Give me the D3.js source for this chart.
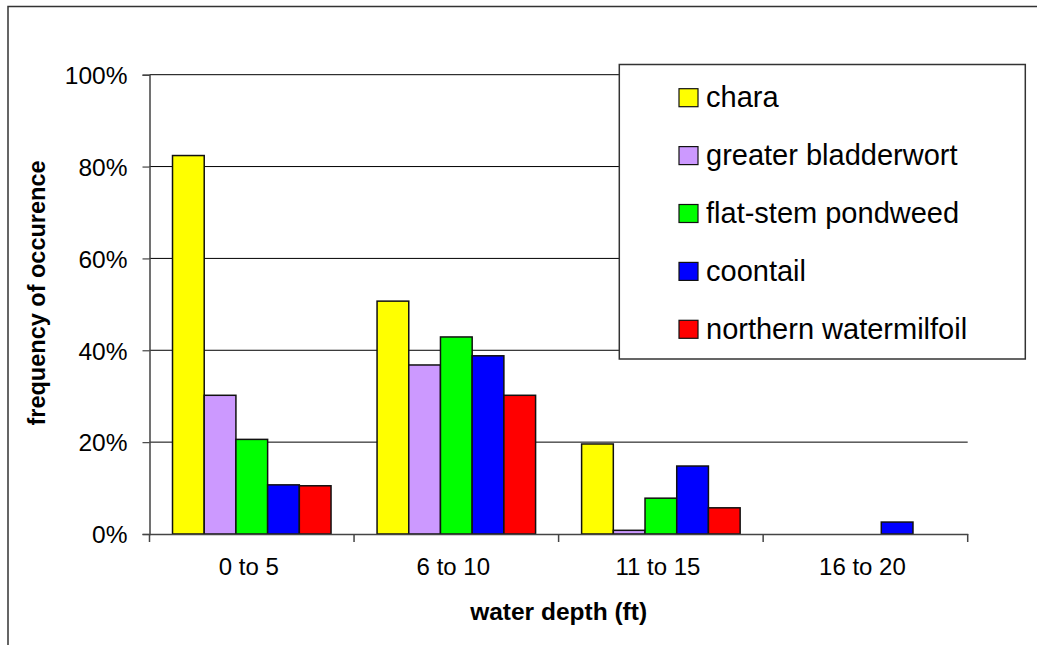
<!DOCTYPE html>
<html>
<head>
<meta charset="utf-8">
<script src="https://cdn.jsdelivr.net/npm/d3@7"></script>
<style>
  body { margin: 0; background: #fff; }
  svg { display: block; font-family: "Liberation Sans", Arial, sans-serif; }
</style>
</head>
<body>
<div id="chart"></div>
<script>
// values
const categories = ["0 to 5", "6 to 10", "11 to 15", "16 to 20"];
const seriesNames = ["chara", "greater bladderwort", "flat-stem pondweed", "coontail", "northern watermilfoil"];
const seriesColors = ["#ffff00", "#cc99ff", "#00ff00", "#0000ff", "#ff0000"];
const chara = [0.824, 0.507, 0.196, 0];
const greaterBladderwort = [0.302, 0.368, 0.008, 0];
const flatStemPondweed = [0.206, 0.429, 0.078, 0];
const coontail = [0.107, 0.388, 0.148, 0.026];
const northernWatermilfoil = [0.105, 0.302, 0.057, 0];
const yTicks = [0, 0.2, 0.4, 0.6, 0.8, 1.0];

const seriesValues = [chara, greaterBladderwort, flatStemPondweed, coontail, northernWatermilfoil];

const width = 1037, height = 645;
const plot = { left: 149.5, right: 967.7, top: 74.7, bottom: 534 };

const svg = d3.select("#chart").append("svg")
  .attr("width", width)
  .attr("height", height);

// outer chart frame (only top and left edges visible)
svg.append("path")
  .attr("d", `M8,${height} L8,6.5 L${width},6.5`)
  .attr("fill", "none")
  .attr("stroke", "#333")
  .attr("stroke-width", 1.5);

const x0 = d3.scaleBand().domain(categories).range([plot.left, plot.right]);
const gap = x0.bandwidth() * 0.1125;
const x1 = d3.scaleBand().domain(seriesNames).range([gap, x0.bandwidth() - gap]);
const y = d3.scaleLinear().domain([0, 1]).range([plot.bottom, plot.top]);

// gridlines
svg.append("g")
  .selectAll("line")
  .data(yTicks.slice(1))
  .join("line")
  .attr("x1", plot.left)
  .attr("x2", plot.right)
  .attr("y1", d => y(d))
  .attr("y2", d => y(d))
  .attr("stroke", "#000")
  .attr("stroke-width", 1);

// bars
const rows = [];
seriesNames.forEach((s, i) => {
  categories.forEach((c, j) => {
    rows.push({ series: s, cat: c, value: seriesValues[i][j], color: seriesColors[i] });
  });
});

svg.append("g")
  .selectAll("rect")
  .data(rows.filter(d => d.value > 0))
  .join("rect")
  .attr("x", d => x0(d.cat) + x1(d.series))
  .attr("y", d => y(d.value))
  .attr("width", x1.bandwidth())
  .attr("height", d => y(0) - y(d.value))
  .attr("fill", d => d.color)
  .attr("stroke", "#111")
  .attr("stroke-width", 1.5);

// y axis
const yAxis = svg.append("g")
  .attr("transform", `translate(${plot.left},0)`)
  .call(d3.axisLeft(y).tickValues(yTicks).tickFormat(d3.format(".0%")).tickSize(7).tickPadding(15));
yAxis.select(".domain").attr("stroke", "#444").attr("stroke-width", 1.5);
yAxis.selectAll(".tick line").attr("stroke", "#444").attr("stroke-width", 1.2);
yAxis.selectAll("text")
  .attr("font-size", 24.5)
  .attr("font-family", "Liberation Sans, Arial, sans-serif")
  .attr("fill", "#000")
  .attr("dy", "0.36em");

// x axis
const xAxis = svg.append("g")
  .attr("transform", `translate(0,${plot.bottom})`)
  .call(d3.axisBottom(x0).tickSize(0).tickPadding(24));
xAxis.select(".domain").attr("stroke", "#444").attr("stroke-width", 1.5);
xAxis.selectAll("text")
  .attr("font-size", 24)
  .attr("font-family", "Liberation Sans, Arial, sans-serif")
  .attr("fill", "#000")
  .attr("dx", -3);
// category boundary ticks
xAxis.append("g")
  .selectAll("line")
  .data(categories.concat(["end"]))
  .join("line")
  .attr("x1", (d, i) => i < categories.length ? x0(d) : plot.right)
  .attr("x2", (d, i) => i < categories.length ? x0(d) : plot.right)
  .attr("y1", 0)
  .attr("y2", 8)
  .attr("stroke", "#444")
  .attr("stroke-width", 1.5);

// axis titles
svg.append("text")
  .attr("transform", `translate(45,293) rotate(-90)`)
  .attr("text-anchor", "middle")
  .attr("font-size", 23.5)
  .attr("font-weight", "bold")
  .text("frequency of occurence");

svg.append("text")
  .attr("x", (plot.left + plot.right) / 2)
  .attr("y", 620)
  .attr("text-anchor", "middle")
  .attr("font-size", 24.5)
  .attr("font-weight", "bold")
  .text("water depth (ft)");

// legend
const legend = svg.append("g");
legend.append("rect")
  .attr("x", 619.3)
  .attr("y", 64.5)
  .attr("width", 1025.3 - 619.3)
  .attr("height", 359 - 64.5)
  .attr("fill", "#fff")
  .attr("stroke", "#333")
  .attr("stroke-width", 1.5);

const legendItems = legend.selectAll("g.item")
  .data(seriesNames)
  .join("g")
  .attr("class", "item")
  .attr("transform", (d, i) => `translate(679,${97.7 + i * 57.9})`);

legendItems.append("rect")
  .attr("x", 0)
  .attr("y", -9)
  .attr("width", 19)
  .attr("height", 18)
  .attr("fill", (d, i) => seriesColors[i])
  .attr("stroke", "#111")
  .attr("stroke-width", 1.2);

legendItems.append("text")
  .attr("x", 27)
  .attr("y", 9.5)
  .attr("font-size", 29)
  .text(d => d);
</script>
</body>
</html>
